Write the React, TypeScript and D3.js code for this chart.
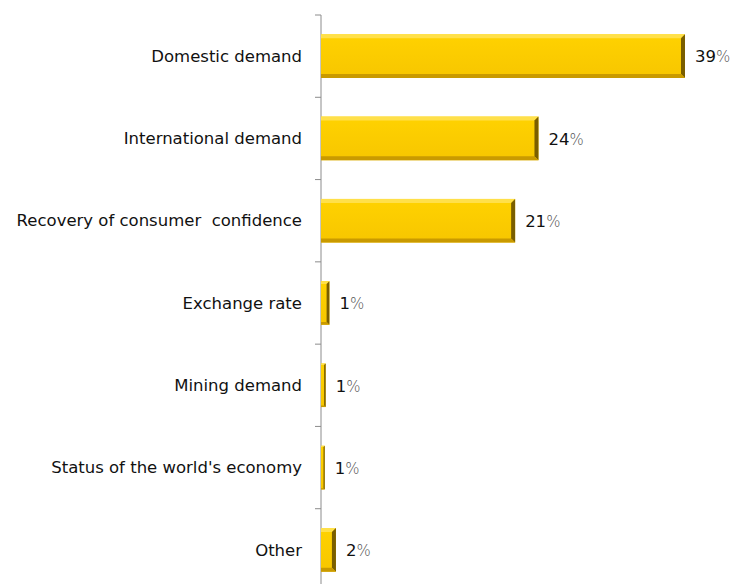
import React from "react";
import * as d3 from "d3";

const categories = [
  "Domestic demand",
  "International demand",
  "Recovery of consumer  confidence",
  "Exchange rate",
  "Mining demand",
  "Status of the world's economy",
  "Other",
];
const values = [39, 23.3, 20.8, 0.9, 0.5, 0.4, 1.6];
const valueLabels = ["39", "24", "21", "1", "1", "1", "2"];

export default function App() {
  const W = 733, H = 584;
  const axisX = 321;
  const x = d3.scaleLinear().domain([0, 39]).range([axisX, 685]);
  const y = d3.scaleBand<string>().domain(categories).range([15, 591]).paddingInner(0.47).paddingOuter(0.235);
  const step = y.step();
  const font = "'DejaVu Sans', Verdana, sans-serif";
  return (
    <svg width={W} height={H} style={{ position: "absolute", left: 0, top: 0, background: "#fff" }}>
      <defs>
        <linearGradient id="gFace" x1="0" y1="0" x2="0" y2="1">
          <stop offset="0" stopColor="#FFD200" />
          <stop offset="1" stopColor="#F7C600" />
        </linearGradient>
      </defs>
      <line x1={axisX} x2={axisX} y1={15} y2={H} stroke="#8c8c8c" strokeWidth={1} />
      {categories.map((c, i) => {
        const t = 15 + i * step;
        return <line key={"t" + i} x1={axisX - 6} x2={axisX} y1={t} y2={t} stroke="#8c8c8c" />;
      })}
      {categories.map((c, i) => {
        const x0 = x(0), x1 = x(values[i]);
        const y0 = y(c)!, h = y.bandwidth();
        const w = x1 - x0;
        const b = Math.min(4, w / 3);
        const cy = y0 + h / 2;
        return (
          <g key={c}>
            <rect x={x0} y={y0} width={w} height={h} fill="url(#gFace)" />
            <polygon points={`${x0},${y0} ${x1},${y0} ${x1 - b},${y0 + b} ${x0},${y0 + b}`} fill="#FFE04A" />
            <polygon points={`${x1},${y0} ${x1},${y0 + h} ${x1 - b},${y0 + h - b} ${x1 - b},${y0 + b}`} fill="#7A5E00" />
            <polygon points={`${x0},${y0 + h} ${x1},${y0 + h} ${x1 - b},${y0 + h - b} ${x0},${y0 + h - b}`} fill="#C99A00" />
            <text x={axisX - 19} y={cy} dy="0.35em" textAnchor="end" fontFamily={font} fontSize={16.5} fill="#111" style={{ whiteSpace: "pre" }}>{c}</text>
            <text x={x1 + 10} y={cy} dy="0.38em" fontFamily={font} fontSize={16.5} fill="#111">
              {valueLabels[i]}<tspan fill="#555" fontWeight={300} fontSize={15}>%</tspan>
            </text>
          </g>
        );
      })}
    </svg>
  );
}
